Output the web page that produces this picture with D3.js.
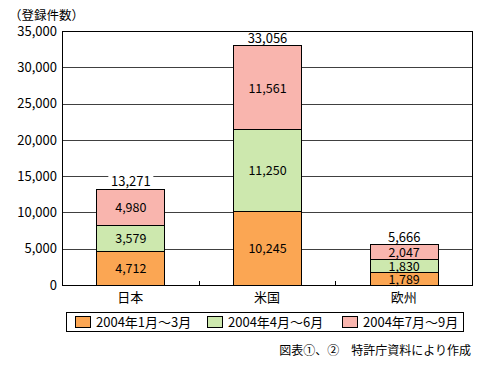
<!DOCTYPE html>
<html>
<head>
<meta charset="utf-8">
<script src="https://cdn.jsdelivr.net/npm/d3@7"></script>
<style>
  body { margin: 0; background: #fff; }
  svg text { font-family: "Noto Sans CJK JP", "Noto Sans", sans-serif; fill: #000; }
</style>
</head>
<body>
<div id="chart"></div>
<script>
// data
var regions = ["日本", "米国", "欧州"];
var periods = ["2004年1月～3月", "2004年4月～6月", "2004年7月～9月"];
var q1 = [4712, 10245, 1789];
var q2 = [3579, 11250, 1830];
var q3 = [4980, 11561, 2047];
var totals = [13271, 33056, 5666];
var yTicks = [0, 5000, 10000, 15000, 20000, 25000, 30000, 35000];
var colors = ["#FBA653", "#CDE8AE", "#F9B5AE"];

var margin = {top: 31, right: 11, bottom: 86, left: 62},
    width = 483 - margin.left - margin.right,
    height = 371 - margin.top - margin.bottom;

var svg = d3.select("#chart")
  .append("svg")
    .attr("width", 483)
    .attr("height", 371);

var g = svg.append("g")
    .attr("transform", "translate(" + margin.left + "," + margin.top + ")");

var x = d3.scaleBand()
  .domain(regions)
  .range([0, width])
  .paddingInner(0.5)
  .paddingOuter(0.25);

var y = d3.scaleLinear()
  .domain([0, 35000])
  .range([height, 0]);

// gridlines
g.selectAll(".grid")
  .data(yTicks.slice(1, -1))
  .enter()
  .append("line")
    .attr("x1", 0)
    .attr("x2", width)
    .attr("y1", function(d) { return Math.round(y(d)) + 0.5; })
    .attr("y2", function(d) { return Math.round(y(d)) + 0.5; })
    .style("stroke", "#404040")
    .style("stroke-width", 1);

// y tick labels
g.selectAll(".ylab")
  .data(yTicks)
  .enter()
  .append("text")
    .attr("x", -5)
    .attr("y", function(d) { return y(d); })
    .attr("dy", "0.36em")
    .attr("text-anchor", "end")
    .style("font-size", "13px")
    .text(function(d) { return d3.format(",")(d); });

// stacked bars
var stackData = regions.map(function(r, i) {
  return {region: r, a: q1[i], b: q2[i], c: q3[i]};
});
var series = d3.stack().keys(["a", "b", "c"])(stackData);

var layer = g.selectAll(".layer")
  .data(series)
  .enter()
  .append("g")
    .style("fill", function(d, i) { return colors[i]; });

layer.selectAll("rect")
  .data(function(d) { return d; })
  .enter()
  .append("rect")
    .attr("x", function(d) { return Math.round(x(d.data.region)) + 0.5; })
    .attr("y", function(d) { return Math.round(y(d[1])) + 0.5; })
    .attr("width", Math.round(x.bandwidth()))
    .attr("height", function(d) { return Math.round(y(d[0])) - Math.round(y(d[1])); })
    .style("stroke", "#000")
    .style("stroke-width", 1);

// segment labels
layer.selectAll("text")
  .data(function(d) { return d; })
  .enter()
  .append("text")
    .attr("x", function(d) { return x(d.data.region) + x.bandwidth() / 2 + 0.5; })
    .attr("y", function(d) { return (y(d[0]) + y(d[1])) / 2 + 1; })
    .attr("dy", "0.36em")
    .attr("text-anchor", "middle")
    .style("font-size", "12.5px")
    .style("fill", "#000")
    .text(function(d) { return d3.format(",")(d[1] - d[0]); });

// totals with white background
var tot = g.selectAll(".total")
  .data(regions)
  .enter()
  .append("g");

tot.append("rect")
  .attr("x", function(d) { return x(d) + x.bandwidth() / 2 - 22; })
  .attr("y", function(d, i) { return y(totals[i]) - 14; })
  .attr("width", 45)
  .attr("height", 13)
  .style("fill", "#fff");

tot.append("text")
  .attr("x", function(d) { return x(d) + x.bandwidth() / 2 + 0.5; })
  .attr("y", function(d, i) { return y(totals[i]) - 7; })
  .attr("dy", "0.36em")
  .attr("text-anchor", "middle")
  .style("font-size", "13px")
  .text(function(d, i) { return d3.format(",")(totals[i]); });

// plot frame
g.append("rect")
  .attr("x", 0.5)
  .attr("y", 0.5)
  .attr("width", width)
  .attr("height", height)
  .style("fill", "none")
  .style("stroke", "#000")
  .style("stroke-width", 1);

// small ticks between categories
g.selectAll(".sep")
  .data(regions.slice(1))
  .enter()
  .append("line")
    .attr("x1", function(d) { return Math.round(x(d) - x.step() * x.paddingInner() / 2) + 0.5; })
    .attr("x2", function(d) { return Math.round(x(d) - x.step() * x.paddingInner() / 2) + 0.5; })
    .attr("y1", height)
    .attr("y2", height - 4)
    .style("stroke", "#000");

// category labels
g.selectAll(".xlab")
  .data(regions)
  .enter()
  .append("text")
    .attr("x", function(d) { return x(d) + x.bandwidth() / 2; })
    .attr("y", height + 12)
    .attr("dy", "0.36em")
    .attr("text-anchor", "middle")
    .style("font-size", "13px")
    .text(function(d) { return d; });

// y axis unit
svg.append("text")
  .attr("x", 9)
  .attr("y", 15)
  .attr("dy", "0.36em")
  .style("font-size", "12.5px")
  .text("（登録件数）");

// legend
var legend = svg.append("g");
legend.append("rect")
  .attr("x", 66.5)
  .attr("y", 312.5)
  .attr("width", 397)
  .attr("height", 19)
  .style("fill", "#fff")
  .style("stroke", "#000");

var legendX = [75, 207, 342];
var item = legend.selectAll(".item")
  .data(periods)
  .enter()
  .append("g")
    .attr("transform", function(d, i) { return "translate(" + legendX[i] + ",316)"; });

item.append("rect")
  .attr("x", 0.5)
  .attr("y", 0.5)
  .attr("width", 15)
  .attr("height", 11)
  .style("fill", function(d, i) { return colors[i]; })
  .style("stroke", "#000");

item.append("text")
  .attr("x", 21)
  .attr("y", 6)
  .attr("dy", "0.36em")
  .style("font-size", "13px")
  .text(function(d) { return d; });

// source note
svg.append("text")
  .attr("x", 471)
  .attr("y", 351)
  .attr("dy", "0.36em")
  .attr("text-anchor", "end")
  .style("font-size", "12px")
  .text("図表①、②　特許庁資料により作成");
</script>
</body>
</html>
